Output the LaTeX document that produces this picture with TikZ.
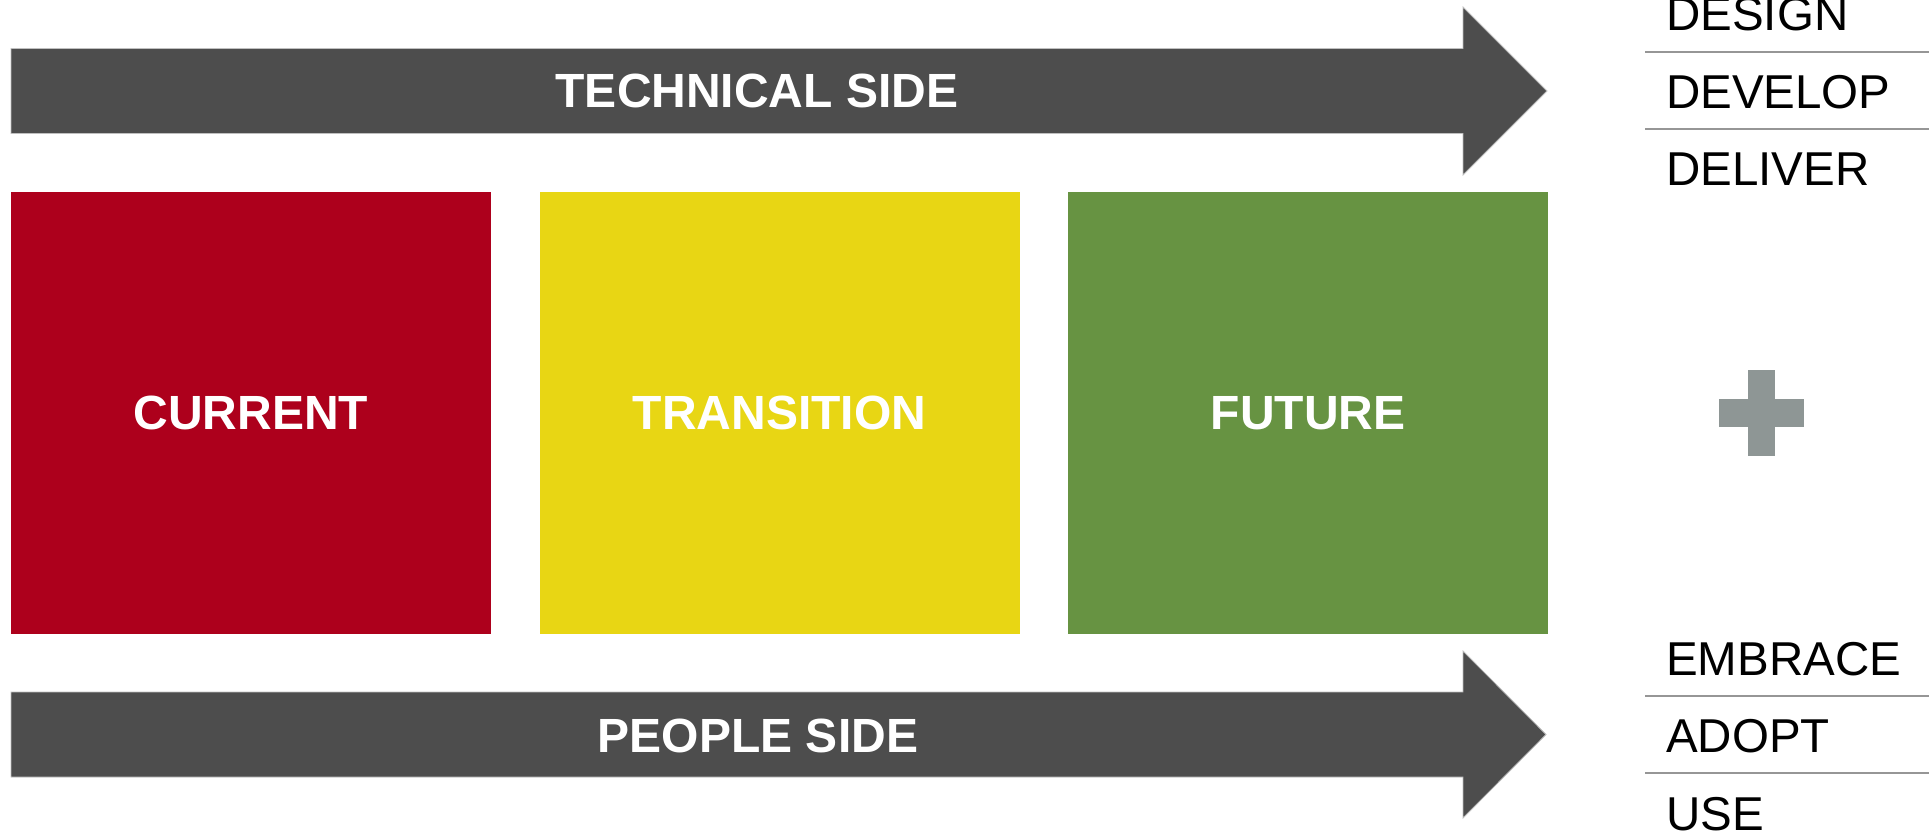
\documentclass[tikz,border=0pt]{standalone}
\usepackage{fontspec}
\setmainfont{Liberation Sans}
\definecolor{darkarrow}{RGB}{77,77,77}
\definecolor{curred}{RGB}{173,0,28}
\definecolor{transyellow}{RGB}{232,214,20}
\definecolor{futgreen}{RGB}{103,147,66}
\definecolor{plusgray}{RGB}{142,150,149}
\definecolor{sepgray}{RGB}{150,150,150}
\tikzset{
  bigarrow/.style={fill=darkarrow, draw=black!25, line width=0.8pt},
  stagebox/.style={minimum width=480pt, minimum height=442pt, inner sep=0pt, text=white,
     font=\fontsize{48}{57}\selectfont\bfseries},
  arrowlabel/.style={anchor=base, inner sep=0pt, text=white, font=\fontsize{48}{57}\selectfont\bfseries},
  sidelabel/.style={anchor=base west, inner sep=0pt, text=black, font=\fontsize{47.5}{56}\selectfont},
  sepline/.style={draw=sepgray, line width=2.2pt},
}
\begin{document}
\begin{tikzpicture}[x=1pt,y=-1pt]
\useasboundingbox (0,0) rectangle (1929,834);
% top arrow
\fill[bigarrow] (11,48.5) -- (1463,48.5) -- (1463,7) -- (1547,91) -- (1463,175) -- (1463,133.5) -- (11,133.5) -- cycle;
\node[arrowlabel] (tech) at (757,108) {TECHNICAL SIDE};
% bottom arrow
\fill[bigarrow] (11,692) -- (1463,692) -- (1463,651) -- (1546,734.5) -- (1463,818) -- (1463,777) -- (11,777) -- cycle;
\node[arrowlabel] (people) at (758,752) {PEOPLE SIDE};
% stage boxes
\node[stagebox, fill=curred] (current) at (251,413) {CURRENT};
\node[stagebox, fill=transyellow] (transition) at (779.5,413) {TRANSITION};
\node[stagebox, fill=futgreen] (future) at (1308,413) {FUTURE};
% plus sign
\fill[plusgray] (1748,370) rectangle (1775,456);
\fill[plusgray] (1719,399) rectangle (1804,427);
% right labels top
\node[sidelabel] (design) at (1666,31) {DESIGN};
\draw[sepline] (1645,52) -- (1929,52);
\node[sidelabel] (develop) at (1666,109) {DEVELOP};
\draw[sepline] (1645,129) -- (1929,129);
\node[sidelabel] (deliver) at (1666,186) {DELIVER};
% right labels bottom
\node[sidelabel] (embrace) at (1666,675) {EMBRACE};
\draw[sepline] (1645,696) -- (1929,696);
\node[sidelabel] (adopt) at (1666,752) {ADOPT};
\draw[sepline] (1645,773) -- (1929,773);
\node[sidelabel] (use) at (1666,830) {USE};
\end{tikzpicture}
\end{document}
